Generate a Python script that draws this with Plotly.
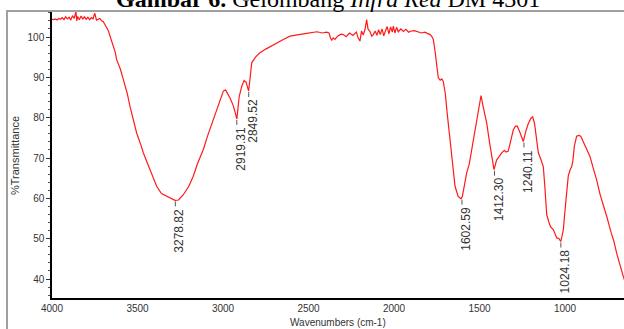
import plotly.graph_objects as go

# ---- data ----
wavenumber = [4000, 3990, 3980, 3970, 3960, 3950, 3940, 3930, 3920, 3910, 3900, 3890, 3880, 3870,
              3860, 3855, 3850, 3840, 3830, 3820, 3810, 3800, 3790, 3780, 3770, 3760, 3750, 3740,
              3720, 3710, 3700, 3690, 3680, 3670, 3660, 3650, 3640, 3630, 3622, 3600, 3583, 3560,
              3544, 3520, 3505, 3480, 3466, 3440, 3427, 3400, 3388, 3360, 3329, 3300, 3281, 3260,
              3232, 3200, 3174, 3150, 3115, 3090, 3057, 3030, 2998, 2985, 2970, 2959, 2940, 2930,
              2919, 2912, 2905, 2890, 2877, 2865, 2855, 2850, 2840, 2832, 2810, 2784, 2750, 2706,
              2650, 2608, 2560, 2511, 2450, 2420, 2394, 2380, 2370, 2364, 2355, 2345, 2330, 2310,
              2296, 2280, 2260, 2240, 2220, 2210, 2199, 2190, 2180, 2170, 2160, 2152, 2140, 2130,
              2121, 2110, 2100, 2090, 2080, 2070, 2060, 2050, 2040, 2030, 2020, 2010, 2004, 1995,
              1985, 1975, 1960, 1945, 1930, 1915, 1900, 1880, 1860, 1840, 1820, 1800, 1789, 1780,
              1770, 1760, 1750, 1741, 1730, 1720, 1712, 1700, 1690, 1672, 1660, 1643, 1625, 1608,
              1600, 1590, 1575, 1560, 1546, 1530, 1516, 1500, 1491, 1480, 1470, 1458, 1440, 1425,
              1415, 1400, 1385, 1370, 1355, 1345, 1332, 1318, 1302, 1290, 1279, 1265, 1250, 1244,
              1230, 1215, 1200, 1189, 1178, 1168, 1156, 1140, 1127, 1118, 1107, 1095, 1085, 1068,
              1058, 1048, 1035, 1025, 1018, 1010, 1000, 990, 981, 970, 961, 955, 945, 932,
              920, 908, 895, 883, 870, 854, 835, 815, 795, 776, 756, 730, 715, 698,
              680, 659, 650]
transmittance = [104.4, 104.3, 104.5, 104.2, 104.6, 104.4, 104.8, 104.3, 105.0, 104.5, 104.9, 104.2, 105.3, 104.6,
                 106.3, 104.0, 105.1, 104.3, 105.2, 104.5, 105.0, 104.4, 104.9, 104.3, 104.8, 104.5, 105.9, 104.2,
                 104.6, 104.0, 103.8, 103.2, 102.3, 101.5, 100.3, 99.0, 97.8, 96.2, 94.4, 92.0, 89.5, 86.0,
                 82.8, 79.0, 76.2, 73.2, 71.3, 68.5, 67.1, 64.2, 63.0, 61.2, 60.5, 59.8, 59.5, 59.6,
                 60.9, 63.0, 65.5, 68.5, 72.1, 75.5, 79.5, 83.0, 86.6, 86.9, 85.9, 84.9, 83.0, 81.0,
                 79.7, 82.5, 85.3, 87.8, 89.2, 88.8, 87.5, 86.6, 90.5, 93.6, 95.0, 96.1, 97.0, 98.1,
                 99.3, 100.2, 100.6, 100.9, 101.3, 101.0, 101.2, 101.0, 99.6, 99.2, 99.8, 99.4, 100.2, 100.7,
                 100.6, 100.1, 101.0, 100.4, 101.2, 99.8, 99.0, 101.5, 100.5, 101.8, 104.3, 102.0, 101.3, 100.2,
                 100.6, 101.5, 100.4, 101.8, 100.6, 102.0, 100.3, 101.6, 102.6, 100.8, 102.5, 101.2, 102.7, 101.0,
                 102.4, 101.3, 102.0, 101.4, 101.9, 101.2, 101.5, 101.6, 101.3, 101.0, 101.2, 100.8, 100.6, 100.2,
                 99.4, 96.5, 92.5, 89.9, 89.3, 89.6, 89.0, 86.0, 81.5, 73.7, 68.5, 63.0, 60.5, 59.9,
                 60.5, 63.0, 66.3, 68.5, 72.1, 75.5, 79.5, 83.5, 85.5, 83.0, 80.8, 78.7, 73.5, 69.5,
                 67.1, 69.5, 70.5, 71.3, 71.9, 71.5, 71.7, 74.5, 77.0, 77.9, 77.9, 76.5, 74.5, 74.1,
                 76.5, 78.5, 79.8, 80.2, 78.5, 74.5, 71.3, 69.5, 67.9, 63.0, 56.0, 54.2, 53.0, 52.2,
                 51.0, 50.2, 50.0, 49.3, 50.5, 52.2, 57.0, 62.5, 65.5, 67.1, 67.9, 69.0, 73.0, 75.4,
                 75.6, 75.4, 74.2, 73.3, 72.2, 70.4, 67.5, 64.6, 61.0, 58.0, 55.5, 51.5, 49.5, 46.4,
                 43.5, 40.6, 39.5]

peak_wn = [3278.82, 2919.31, 2849.52, 1602.59, 1412.30, 1240.11, 1024.18]
peak_t = [59.5, 79.7, 86.6, 59.9, 67.1, 74.1, 49.3]
peak_labels = ["3278.82", "2919.31", "2849.52", "1602.59", "1412.30", "1240.11", "1024.18"]

y_ticks = [40, 50, 60, 70, 80, 90, 100]
x_ticks = [4000, 3500, 3000, 2500, 2000, 1500, 1000]

W, H = 624, 329
ML, MR, MT, MB = 52, 0, 12, 31
PW, PH = W - ML - MR, H - MT - MB


def px_x(px):
    return (px - ML) / PW


def px_y(py):
    return (H - MB - py) / PH


fig = go.Figure()
fig.add_trace(go.Scatter(x=wavenumber, y=transmittance, mode="lines",
                         line=dict(color="#ff1a1a", width=1.2), hoverinfo="skip",
                         showlegend=False))

sans = "Liberation Sans, Arial, sans-serif"
label_col = "#333333"

annotations = []
shapes = []
for wn, t, lab in zip(peak_wn, peak_t, peak_labels):
    shapes.append(dict(type="line", xref="x", yref="y", ysizemode="pixel", yanchor=t,
                       x0=wn, x1=wn, y0=-1, y1=-6, line=dict(color="#555555", width=1)))
    annotations.append(dict(x=wn, y=t, xref="x", yref="y", text=lab, showarrow=False,
                            textangle=-90, xanchor="center", yanchor="top",
                            xshift=4, yshift=-6,
                            font=dict(family=sans, size=12, color=label_col)))

# title (partially cut at top)
annotations.append(dict(x=px_x(328), y=px_y(14), xref="paper", yref="paper",
                        xanchor="center", yanchor="bottom", showarrow=False,
                        text="<b>Gambar 6.</b> Gelombang <i>Infra Red</i> DM 4301",
                        font=dict(family="Liberation Serif, Times New Roman, serif", size=24,
                                  color="black")))
# axis titles
annotations.append(dict(x=px_x(15), y=px_y(156), xref="paper", yref="paper",
                        xanchor="center", yanchor="middle", showarrow=False, textangle=-90,
                        text="%Transmittance", font=dict(family=sans, size=11, color=label_col)))
annotations.append(dict(x=px_x(338), y=px_y(322), xref="paper", yref="paper",
                        xanchor="center", yanchor="middle", showarrow=False,
                        text="Wavenumbers (cm-1)", font=dict(family=sans, size=10, color=label_col)))

# gray outer frame
shapes.append(dict(type="line", xref="paper", yref="paper", x0=px_x(6), x1=px_x(624),
                   y0=px_y(11), y1=px_y(11), line=dict(color="#a0a0a0", width=2)))
shapes.append(dict(type="line", xref="paper", yref="paper", x0=px_x(7), x1=px_x(7),
                   y0=px_y(11), y1=px_y(329), line=dict(color="#a0a0a0", width=2)))

fig.update_layout(
    width=W, height=H,
    margin=dict(l=ML, r=MR, t=MT, b=MB, pad=0),
    paper_bgcolor="white", plot_bgcolor="white",
    annotations=annotations, shapes=shapes,
    xaxis=dict(range=[4000, 655], tickvals=x_ticks, ticktext=[str(v) for v in x_ticks],
               showgrid=False, zeroline=False, showline=True, linecolor="black", linewidth=1.5,
               ticks="", ticklabelstandoff=0,
               tickfont=dict(family=sans, size=10, color=label_col)),
    yaxis=dict(range=[35.3, 106.2], tickvals=y_ticks, ticktext=[str(v) for v in y_ticks],
               showgrid=False, zeroline=False, showline=True, linecolor="black", linewidth=1.5,
               ticks="outside", ticklen=4, tickcolor="#333333", tickwidth=1,
               minor=dict(dtick=2, ticks="outside", ticklen=2, tickcolor="#555555"),
               tickfont=dict(family=sans, size=10, color=label_col)),
)

fig.write_html("out.html")
